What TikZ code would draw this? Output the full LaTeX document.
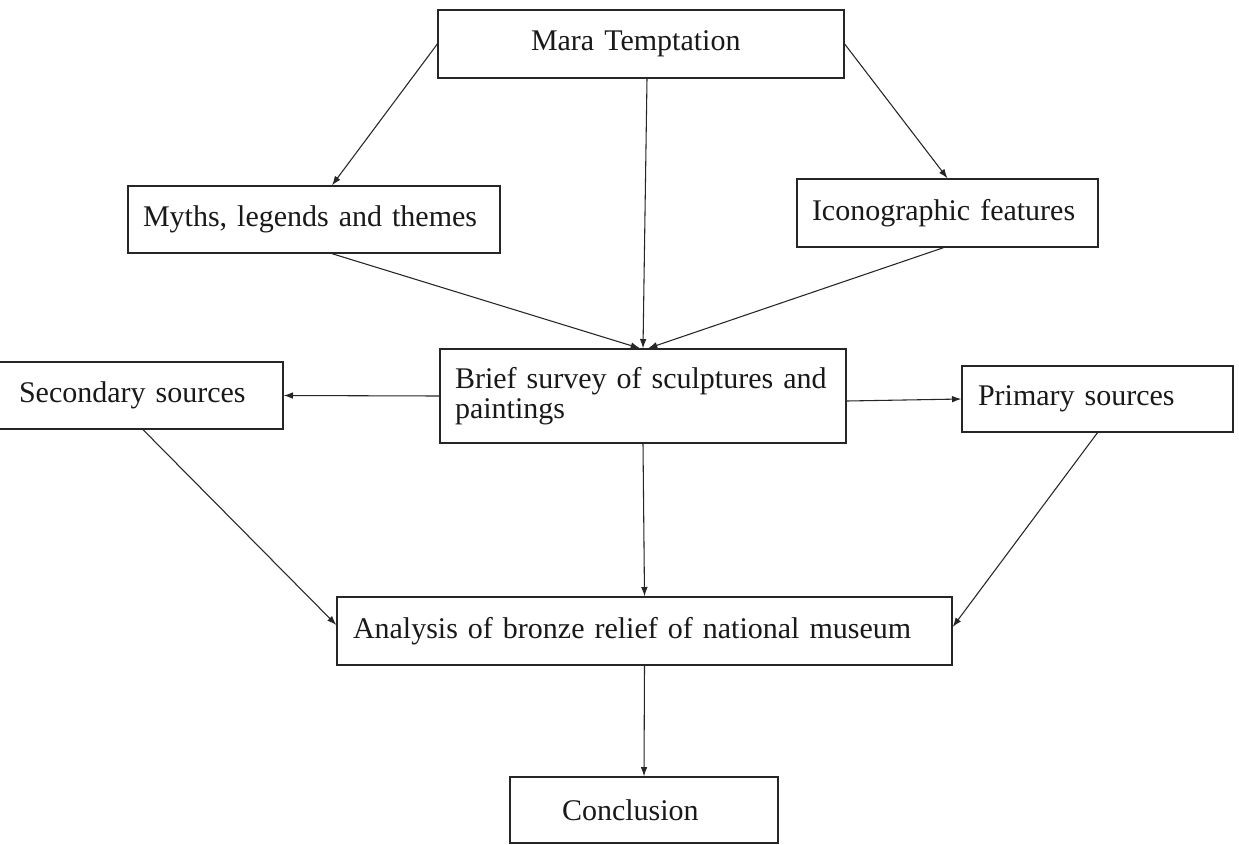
\documentclass[tikz,border=0pt]{standalone}
\usepackage{fontspec}
\setmainfont{Liberation Serif}
\usetikzlibrary{arrows.meta}
\begin{document}
\begin{tikzpicture}[x=0.75pt,y=-0.75pt,
  box/.style={draw=black!85, line width=1pt, inner ysep=0pt, align=left,
    font=\fontsize{22.5pt}{22pt}\selectfont, text=black!90},
  conn/.style={draw=black!85, line width=0.8pt, -{Latex[length=7pt,width=5pt]}}]
\fill[white] (0,0) rectangle (1239,844);
\useasboundingbox (0,0) rectangle (1239,844);

\node[box, minimum height=51pt, text width=165pt, inner xsep=69.75pt] (mara) at (641,44) {Mara Temptation};
\node[box, minimum height=50.25pt, text width=256.5pt, inner xsep=11.25pt] (myths) at (314,219.5) {Myths, legends and themes};
\node[box, minimum height=51pt, text width=203.25pt, inner xsep=11.25pt] (icono) at (947.5,213) {Iconographic features};
\node[box, minimum height=70.5pt, text width=282pt, inner xsep=11.25pt] (brief) at (643,396) {Brief survey of sculptures and\\paintings};
\node[box, minimum height=50.25pt, text width=176.25pt, inner xsep=21.75pt] (second) at (136.5,395.5) {Secondary sources};
\node[box, minimum height=49.5pt, text width=179.25pt, inner xsep=12pt] (primary) at (1097.5,399) {Primary sources};
\node[box, minimum height=51pt, text width=437.25pt, inner xsep=12pt] (analysis) at (644.5,631) {Analysis of bronze relief of national museum};
\node[box, minimum height=49.5pt, text width=123pt, inner xsep=39pt] (concl) at (644,810) {Conclusion};

\draw[conn] (mara.west) -- ([xshift=13.5pt]myths.north);
\draw[conn] ([xshift=4.5pt]mara.south) -- (brief.north);
\draw[conn] (mara.east) -- (icono.north);
\draw[conn] ([xshift=13.5pt]myths.south) -- ([xshift=-2.25pt]brief.north);
\draw[conn] ([xshift=-3pt]icono.south) -- ([xshift=3.75pt]brief.north);
\draw[conn] (brief.west) -- (second.east);
\draw[conn] ([yshift=-3.75pt]brief.east) -- (primary.west);
\draw[conn] (brief.south) -- (analysis.north);
\draw[conn] ([xshift=4.9pt]second.south) -- ([yshift=4.5pt]analysis.west);
\draw[conn] (primary.south) -- ([yshift=3pt]analysis.east);
\draw[conn] (analysis.south) -- (concl.north);
\end{tikzpicture}
\end{document}
